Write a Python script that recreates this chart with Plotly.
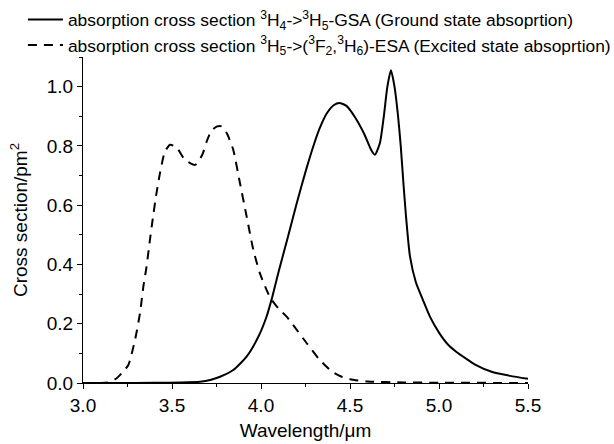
import plotly.graph_objects as go

gsa_x = [3.0, 3.2, 3.4, 3.55, 3.657, 3.72, 3.77, 3.844, 3.919, 3.985, 4.03, 4.06, 4.10, 4.15, 4.20,
         4.256, 4.3, 4.33, 4.37, 4.41, 4.44, 4.48, 4.53, 4.58, 4.62, 4.64, 4.668, 4.69, 4.71,
         4.73, 4.75, 4.77, 4.785, 4.80, 4.815, 4.837, 4.87, 4.91, 4.949, 5.0, 5.05, 5.1, 5.15, 5.2,
         5.3, 5.4, 5.5]
gsa_y = [0.0, 0.0, 0.0005, 0.0015, 0.004, 0.011, 0.021, 0.044, 0.089, 0.156, 0.222, 0.283, 0.378, 0.49, 0.605,
         0.725, 0.81, 0.86, 0.91, 0.938, 0.945, 0.935, 0.895, 0.84, 0.785, 0.77, 0.81, 0.9, 1.0,
         1.055, 1.0, 0.9, 0.8, 0.675, 0.56, 0.427, 0.34, 0.28, 0.224, 0.17, 0.13, 0.104, 0.083, 0.063,
         0.037, 0.024, 0.014]

esa_x = [3.0, 3.1, 3.15, 3.189, 3.22, 3.254, 3.292, 3.32, 3.339, 3.357, 3.376, 3.391, 3.41, 3.433, 3.46,
         3.489, 3.51, 3.535, 3.573, 3.63, 3.67, 3.695, 3.72, 3.75, 3.779, 3.81, 3.844, 3.88, 3.92, 3.957,
         3.994, 4.05, 4.1, 4.144, 4.2, 4.256, 4.33, 4.4, 4.45, 4.5, 4.6, 4.8, 5.0, 5.5]
esa_y = [0.0, 0.0, 0.003, 0.016, 0.035, 0.06, 0.145, 0.235, 0.325, 0.393, 0.483, 0.55, 0.63, 0.71, 0.78,
         0.804, 0.80, 0.787, 0.753, 0.736, 0.77, 0.815, 0.849, 0.865, 0.866, 0.84, 0.787, 0.68, 0.56, 0.449,
         0.37, 0.29, 0.25, 0.224, 0.18, 0.135, 0.078, 0.038, 0.022, 0.013, 0.005, 0.002, 0.001, 0.0]

name_gsa = "absorption cross section <sup>3</sup>H<sub>4</sub>-&gt;<sup>3</sup>H<sub>5</sub>-GSA (Ground state absoprtion)"
name_esa = "absorption cross section <sup>3</sup>H<sub>5</sub>-&gt;(<sup>3</sup>F<sub>2</sub>,<sup>3</sup>H<sub>6</sub>)-ESA (Excited state absoprtion)"

x_ticks = [3.0, 3.5, 4.0, 4.5, 5.0, 5.5]
y_ticks = [0.0, 0.2, 0.4, 0.6, 0.8, 1.0]

fig = go.Figure()
fig.add_trace(go.Scatter(x=gsa_x, y=gsa_y, mode="lines", name=name_gsa,
                         line=dict(color="black", width=2, shape="spline", smoothing=0.6)))
fig.add_trace(go.Scatter(x=esa_x, y=esa_y, mode="lines", name=name_esa,
                         line=dict(color="black", width=2, dash="9px,7px", shape="spline", smoothing=0.6)))

font = "Liberation Sans, Arial, sans-serif"
fig.update_layout(
    width=614, height=444,
    margin=dict(l=83, r=86, t=57, b=61, autoexpand=False),
    paper_bgcolor="white", plot_bgcolor="white",
    font=dict(family=font, color="black", size=19),
    showlegend=True,
    legend=dict(x=-0.135, y=1.17, xanchor="left", yanchor="top",
                bgcolor="rgba(0,0,0,0)", font=dict(size=17.4, family=font),
                tracegroupgap=0, itemwidth=35),
    xaxis=dict(range=[3.0, 5.5], tickvals=x_ticks, ticktext=[f"{v:.1f}" for v in x_ticks],
               ticks="outside", ticklen=5, tickwidth=1, tickcolor="black",
               showline=True, linecolor="black", linewidth=1, showgrid=False, zeroline=False,
               minor=dict(dtick=0.25, ticks="outside", ticklen=3, tickcolor="black"),
               title=dict(text="Wavelength/μm", standoff=8, font=dict(size=19)),
               tickfont=dict(size=19)),
    yaxis=dict(range=[0.0, 1.1], tickvals=y_ticks, ticktext=[f"{v:.1f}" for v in y_ticks],
               ticks="outside", ticklen=5, tickwidth=1, tickcolor="black",
               showline=True, linecolor="black", linewidth=1, showgrid=False, zeroline=False,
               minor=dict(dtick=0.1, ticks="outside", ticklen=3, tickcolor="black"),
               title=dict(text="Cross section/pm<sup>2</sup>", standoff=14, font=dict(size=19)),
               tickfont=dict(size=19)),
)

fig.write_html("out.html", config={"displayModeBar": False},
               post_script="document.body.style.margin='0';")
